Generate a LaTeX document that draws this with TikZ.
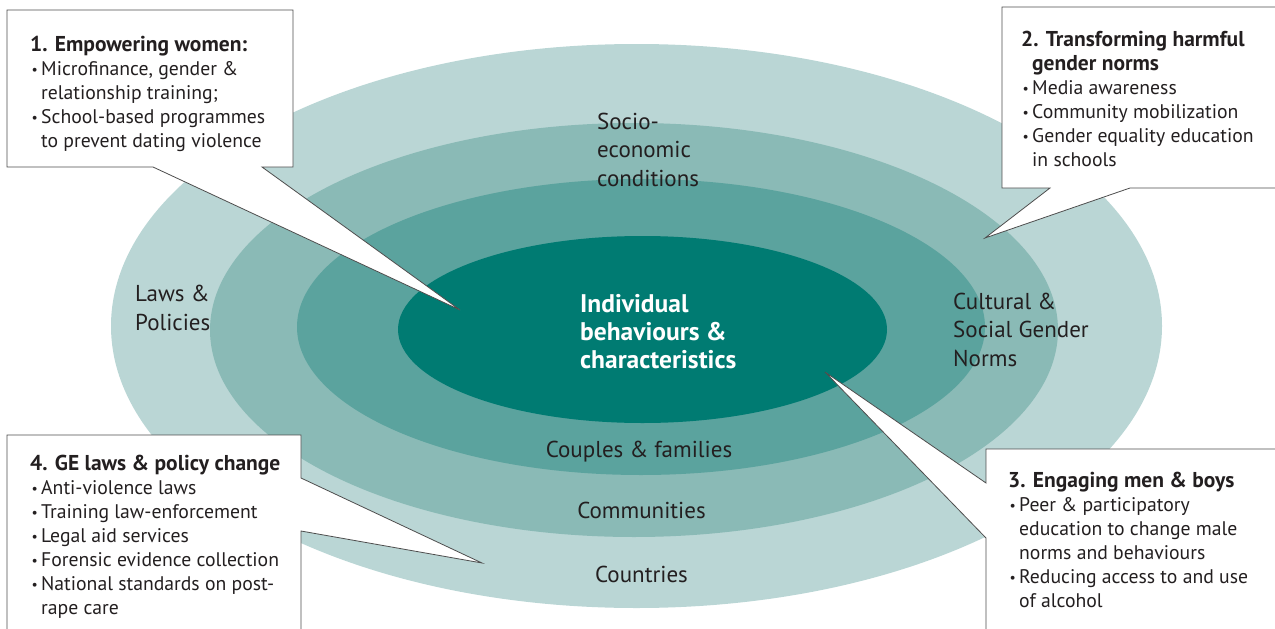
\documentclass[tikz,border=0pt]{standalone}
\usepackage{fontspec}
\setmainfont{PT Sans}
\definecolor{ringA}{HTML}{BAD6D5}
\definecolor{ringB}{HTML}{8ABAB6}
\definecolor{ringC}{HTML}{5BA39E}
\definecolor{ringD}{HTML}{007B72}
\definecolor{txt}{HTML}{231F20}
\definecolor{edge}{HTML}{4D4D4D}
\newcommand\bul{\hspace*{1.5pt}\makebox[9.5pt][l]{\raisebox{1pt}{\scalebox{0.7}{\textbullet}}}}
\newcommand\cont{\hspace*{11pt}}
\newcommand\ttl[1]{{\bfseries\fontsize{21.5}{24}\selectfont #1}}
\begin{document}
\begin{tikzpicture}[x=1pt,y=-1pt,
  boxtext/.style={anchor=base west, inner sep=0pt, align=left, text=txt, font=\fontsize{19.7}{24}\selectfont},
  ringtext/.style={anchor=base west, inner sep=0pt, align=left, text=txt, font=\fontsize{23}{28.5}\selectfont},
  centertext/.style={anchor=base west, inner sep=0pt, align=left, text=white, font=\bfseries\fontsize{25.5}{28}\selectfont},
  callout/.style={draw=edge, line width=0.8pt, fill=white, line join=miter}]
\useasboundingbox (0,0) rectangle (1275,629);
\clip (0,0) rectangle (1275,629);
% rings
\fill[ringA] (636.5,326) ellipse [x radius=525.5pt, y radius=282pt];
\fill[ringB] (634,330) ellipse [x radius=424pt, y radius=207pt];
\fill[ringC] (641,327) ellipse [x radius=344pt, y radius=148pt];
\fill[ringD] (642.5,329.5) ellipse [x radius=244.5pt, y radius=93.5pt];
% ring labels (anchor = baseline of the last line)
\node[ringtext] (socio) at (597,186) {Socio-\\economic\\conditions};
\node[ringtext] (laws) at (135,330) {Laws \&\\Policies};
\node[ringtext] (cult) at (953,366) {Cultural \&\\Social Gender\\Norms};
\node[ringtext, anchor=base] (couples) at (639,457) {Couples \& families};
\node[ringtext, anchor=base] (comm) at (641.5,518) {Communities};
\node[ringtext, anchor=base] (countries) at (641.5,582) {Countries};
\node[centertext] (indiv) at (580,368) {Individual\\behaviours \&\\characteristics};
% callout tips
\coordinate (tip1) at (460,310);
\coordinate (tip2) at (985,238);
\coordinate (tip3) at (825,372);
\coordinate (tip4) at (482,563);
% callouts
\path[callout] (7,10) -- (293,10) -- (293,167) -- (262,167) -- (tip1) -- (153,167) -- (7,167) -- cycle;
\path[callout] (1002,7) -- (1290,7) -- (1290,188) -- (1130,188) -- (tip2) -- (1050,188) -- (1002,188) -- cycle;
\path[callout] (986,449) -- (1290,449) -- (1290,640) -- (986,640) -- (986,538) -- (tip3) -- (986,483) -- cycle;
\path[callout] (7,435) -- (301,435) -- (301,478) -- (tip4) -- (301,531) -- (301,640) -- (7,640) -- cycle;
% callout texts (anchor = baseline of the last line)
\node[boxtext] (t1) at (30,147) {\ttl{1. Empowering women:}\\
  \bul Microfinance, gender \&\\
  \cont relationship training;\\
  \bul School-based programmes\\
  \cont to prevent dating violence};
\node[boxtext] (t2) at (1021,166.5) {\ttl{2. Transforming harmful}\\
  \cont\ttl{gender norms}\\
  \bul Media awareness\\
  \bul Community mobilization\\
  \bul Gender equality education\\
  \cont in schools};
\node[boxtext] (t3) at (1008,607) {\ttl{3. Engaging men \& boys}\\
  \bul Peer \& participatory\\
  \cont education to change male\\
  \cont norms and behaviours\\
  \bul Reducing access to and use\\
  \cont of alcohol};
\node[boxtext] (t4) at (30,614) {\ttl{4. GE laws \& policy change}\\
  \bul Anti-violence laws\\
  \bul Training law-enforcement\\
  \bul Legal aid services\\
  \bul Forensic evidence collection\\
  \bul National standards on post-\\
  \cont rape care};
\end{tikzpicture}
\end{document}
